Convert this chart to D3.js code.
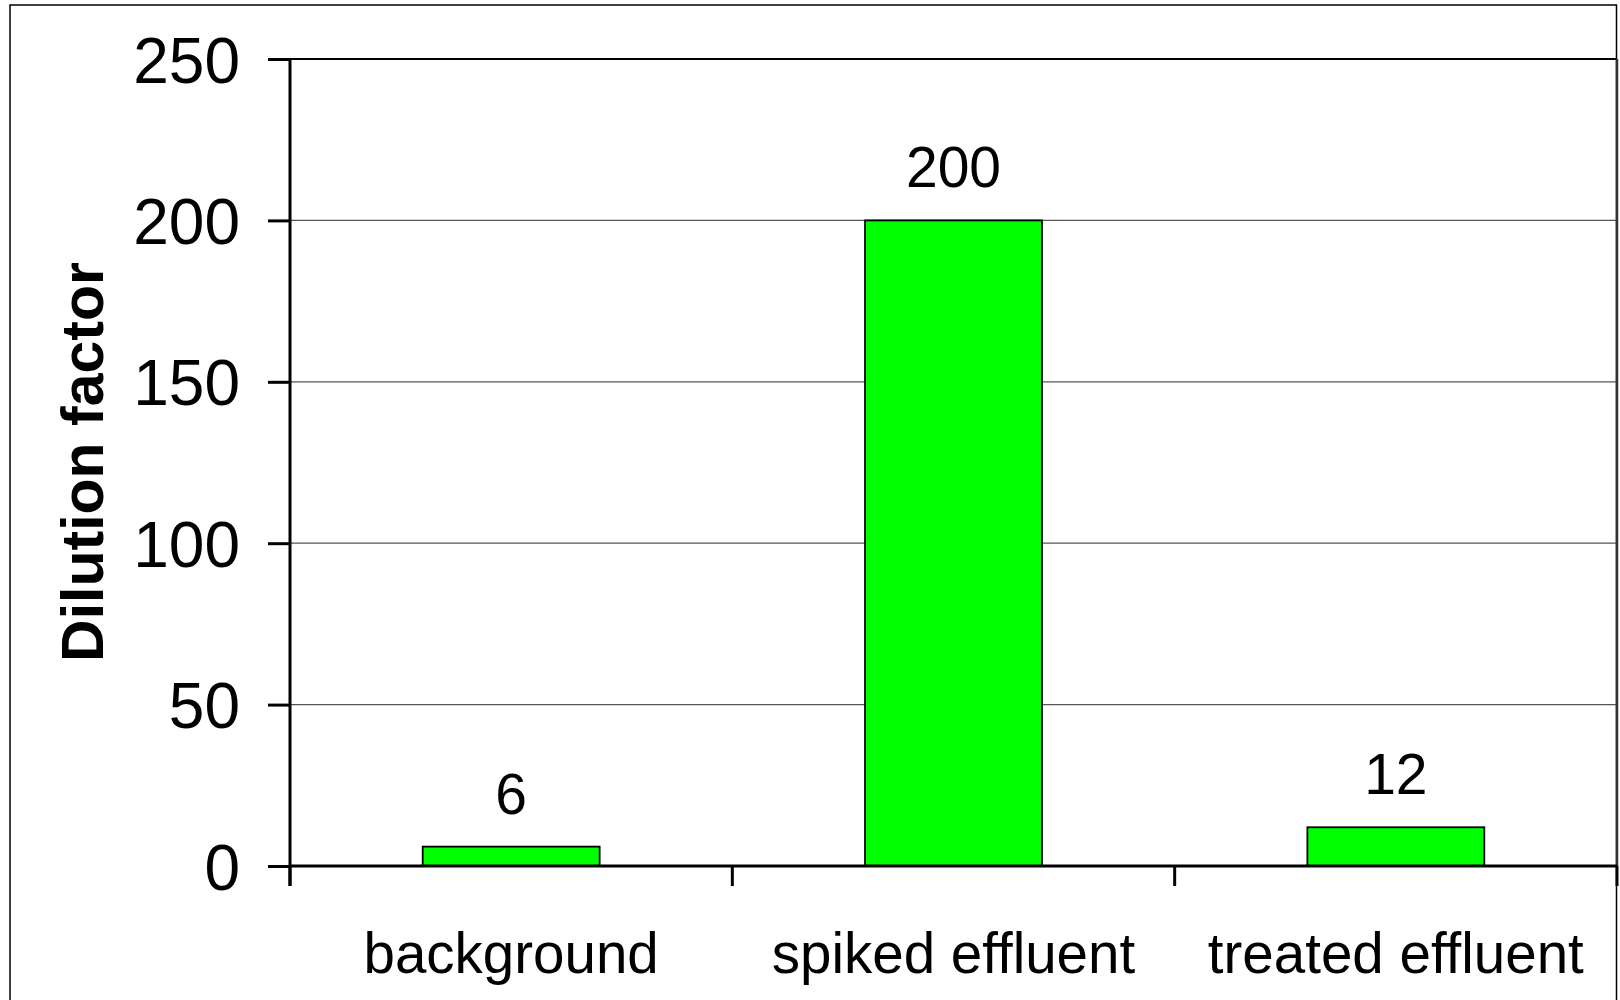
<!DOCTYPE html>
<html>
<head>
<meta charset="utf-8">
<script src="https://cdn.jsdelivr.net/npm/d3@7"></script>
<style>
  html, body { margin: 0; padding: 0; background: #fff; }
  svg { display: block; font-family: "Liberation Sans", Arial, sans-serif; }
</style>
</head>
<body>
<svg id="chart" width="1620" height="1000"></svg>
<script>
// Dilution factor per sample type
const categories = ["background", "spiked effluent", "treated effluent"];
const values = [6, 200, 12];
const yTicks = [0, 50, 100, 150, 200, 250];
const yTitle = "Dilution factor";

const svg = d3.select("#chart");
const plot = { left: 290, right: 1617, top: 59, bottom: 866 };

// outer frame of the chart
svg.append("rect")
  .attr("x", 10).attr("y", 5)
  .attr("width", 1606.5).attr("height", 1010)
  .attr("fill", "#fff").attr("stroke", "#000").attr("stroke-width", 1.5);

const x = d3.scaleBand()
  .domain(categories)
  .range([plot.left, plot.right])
  .paddingInner(0.6)
  .paddingOuter(0.3);

const y = d3.scaleLinear()
  .domain([0, 250])
  .range([plot.bottom, plot.top]);

// horizontal gridlines
svg.append("g")
  .selectAll("line")
  .data(yTicks.filter(t => t > 0 && t < 250))
  .join("line")
  .attr("x1", plot.left).attr("x2", plot.right)
  .attr("y1", d => y(d)).attr("y2", d => y(d))
  .attr("stroke", "#555").attr("stroke-width", 1.2);

// top and right edges of the plot area
svg.append("line")
  .attr("x1", plot.left).attr("x2", plot.right)
  .attr("y1", plot.top).attr("y2", plot.top)
  .attr("stroke", "#000").attr("stroke-width", 2);
svg.append("line")
  .attr("x1", plot.right).attr("x2", plot.right)
  .attr("y1", plot.top).attr("y2", plot.bottom)
  .attr("stroke", "#333").attr("stroke-width", 2.5);

// bars
svg.append("g")
  .selectAll("rect")
  .data(values)
  .join("rect")
  .attr("x", (d, i) => x(categories[i]))
  .attr("y", d => y(d))
  .attr("width", x.bandwidth())
  .attr("height", d => y(0) - y(d))
  .attr("fill", "#00ff00")
  .attr("stroke", "#000")
  .attr("stroke-width", 1.8);

// value labels above bars
svg.append("g")
  .selectAll("text")
  .data(values)
  .join("text")
  .attr("x", (d, i) => x(categories[i]) + x.bandwidth() / 2)
  .attr("y", d => y(d) - 33)
  .attr("text-anchor", "middle")
  .attr("font-size", 57)
  .attr("fill", "#000")
  .text(d => d);

// y axis
const yAxis = d3.axisLeft(y)
  .tickValues(yTicks)
  .tickSize(22)
  .tickPadding(28)
  .tickFormat(d3.format("d"));
const gy = svg.append("g")
  .attr("transform", `translate(${plot.left},0)`)
  .call(yAxis);
gy.select(".domain").remove();
gy.selectAll(".tick line").attr("stroke", "#000").attr("stroke-width", 3);
gy.selectAll(".tick text")
  .attr("font-size", 64)
  .attr("font-family", "'Liberation Sans', Arial, sans-serif")
  .attr("fill", "#000")
  .attr("dy", "0.36em");
svg.append("line")
  .attr("x1", plot.left).attr("x2", plot.left)
  .attr("y1", plot.top).attr("y2", plot.bottom + 20)
  .attr("stroke", "#000").attr("stroke-width", 3);

// x axis: baseline, boundary ticks between categories, centred labels
const bounds = d3.range(categories.length + 1).map(i => plot.left + i * x.step());
svg.append("line")
  .attr("x1", plot.left).attr("x2", plot.right)
  .attr("y1", plot.bottom).attr("y2", plot.bottom)
  .attr("stroke", "#000").attr("stroke-width", 3);
svg.append("g")
  .selectAll("line")
  .data(bounds)
  .join("line")
  .attr("x1", d => d).attr("x2", d => d)
  .attr("y1", plot.bottom).attr("y2", plot.bottom + 20)
  .attr("stroke", "#000").attr("stroke-width", 3);
svg.append("g")
  .selectAll("text")
  .data(categories)
  .join("text")
  .attr("x", d => x(d) + x.bandwidth() / 2)
  .attr("y", 973)
  .attr("text-anchor", "middle")
  .attr("font-size", 56.5)
  .attr("fill", "#000")
  .text(d => d);

// y axis title
svg.append("text")
  .attr("transform", "translate(103,462) rotate(-90)")
  .attr("text-anchor", "middle")
  .attr("font-size", 59)
  .attr("font-weight", "bold")
  .attr("fill", "#000")
  .text(yTitle);
</script>
</body>
</html>
